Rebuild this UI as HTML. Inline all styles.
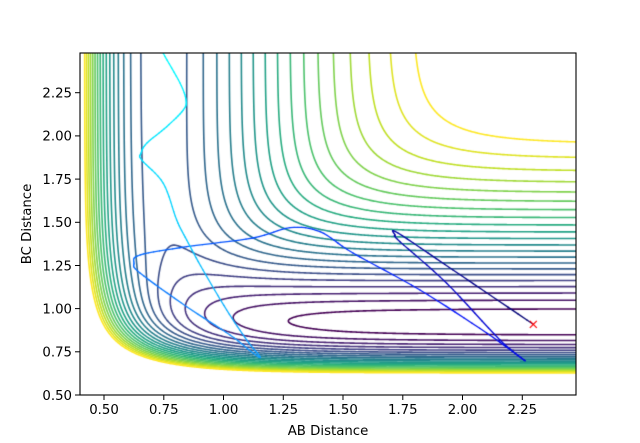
<!DOCTYPE html>
<html><head><meta charset="utf-8"><style>
html,body{margin:0;padding:0;background:#fff;width:640px;height:443px;overflow:hidden}
#c{position:absolute;left:0;top:0}
svg{position:absolute;left:0;top:0}
text{font-family:"DejaVu Sans","Liberation Sans",sans-serif;font-size:13.3px;fill:#000}
</style></head><body>
<canvas id="c" width="640" height="443"></canvas>
<svg width="640" height="443" xmlns="http://www.w3.org/2000/svg">
<rect x="80" y="53" width="496" height="342" fill="none" stroke="#000" stroke-width="1.1"/>
<g stroke="#000" stroke-width="1">
<line x1="104" y1="395" x2="104" y2="400"/><line x1="163.8" y1="395" x2="163.8" y2="400"/><line x1="223.5" y1="395" x2="223.5" y2="400"/><line x1="283.3" y1="395" x2="283.3" y2="400"/><line x1="343" y1="395" x2="343" y2="400"/><line x1="402.8" y1="395" x2="402.8" y2="400"/><line x1="462.5" y1="395" x2="462.5" y2="400"/><line x1="522.3" y1="395" x2="522.3" y2="400"/>
<line x1="75" y1="395" x2="80" y2="395"/><line x1="75" y1="351.8" x2="80" y2="351.8"/><line x1="75" y1="308.6" x2="80" y2="308.6"/><line x1="75" y1="265.5" x2="80" y2="265.5"/><line x1="75" y1="222.3" x2="80" y2="222.3"/><line x1="75" y1="179.1" x2="80" y2="179.1"/><line x1="75" y1="135.9" x2="80" y2="135.9"/><line x1="75" y1="92.7" x2="80" y2="92.7"/>
</g>
<g text-anchor="middle">
<text x="104" y="414">0.50</text><text x="163.8" y="414">0.75</text><text x="223.5" y="414">1.00</text><text x="283.3" y="414">1.25</text><text x="343" y="414">1.50</text><text x="402.8" y="414">1.75</text><text x="462.5" y="414">2.00</text><text x="522.3" y="414">2.25</text>
<text x="328" y="435">AB Distance</text>
<text transform="translate(31,224) rotate(-90)">BC Distance</text>
</g>
<g text-anchor="end">
<text x="72" y="400">0.50</text><text x="72" y="356.6">0.75</text><text x="72" y="313.4">1.00</text><text x="72" y="270.3">1.25</text><text x="72" y="227.1">1.50</text><text x="72" y="183.9">1.75</text><text x="72" y="140.7">2.00</text><text x="72" y="97.5">2.25</text>
</g>
</svg>
<script>
(function(){
var cv=document.getElementById('c'),g=cv.getContext('2d');
var X0=0.4,X1=2.475,Y0=0.5,Y1=2.48,L=80,R=576,T=53,B=395;
function px(x){return L+(x-X0)/(X1-X0)*(R-L);}
function py(y){return B-(y-Y0)/(Y1-Y0)*(B-T);}
var k=0.18;
function pair(r,D,a,r0){var e=Math.exp(-a*(r-r0));var E1=D*(e*e-2*e),E3=D/2*(e*e+2*e);
 return [(E1*(1+k)+E3*(1-k))/2,(E1*(1+k)-E3*(1-k))/2];}
function V(x,y){var A=pair(x,4.746,1.942,0.7414),Bc=pair(y,6.12,2.219,0.917),C=pair(x+y,6.12,2.219,0.917);
 var q=A[0]+Bc[0]+C[0];var j=Math.sqrt(0.5*((A[1]-Bc[1])*(A[1]-Bc[1])+(Bc[1]-C[1])*(Bc[1]-C[1])+(C[1]-A[1])*(C[1]-A[1])));
 return (q-j)/(1+k);}
var vir=[[68,1,84],[72,36,117],[65,68,135],[53,95,141],[42,120,142],[33,145,140],[34,168,132],[68,191,112],[122,209,81],[189,223,38],[253,231,37]];
function cmap(t){t=Math.max(0,Math.min(1,t))*10;var i=Math.min(9,Math.floor(t)),f=t-i,a=vir[i],b=vir[i+1];
 return 'rgb('+Math.round(a[0]+(b[0]-a[0])*f)+','+Math.round(a[1]+(b[1]-a[1])*f)+','+Math.round(a[2]+(b[2]-a[2])*f)+')';}
var NX=420,NY=300,gx=[],gy=[],Z=[];
for(var i=0;i<=NX;i++)gx.push(X0+(X1-X0)*i/NX);
for(var j=0;j<=NY;j++)gy.push(Y0+(Y1-Y0)*j/NY);
for(var j=0;j<=NY;j++){var row=[];for(var i=0;i<=NX;i++)row.push(V(gx[i],gy[j]));Z.push(row);}
g.save();g.beginPath();g.rect(L,T,R-L,B-T);g.clip();
g.lineWidth=1.6;g.lineCap='round';g.lineJoin='round';
var NL=22,lv0=-5.95,dl=0.2283;
for(var n=0;n<NL;n++){var lv=lv0+n*dl;
 var P={},adj={};
 function ept(key,v1,v2,x1,y1,x2,y2){if(!P[key]){var t=(lv-v1)/(v2-v1);P[key]=[px(x1+(x2-x1)*t),py(y1+(y2-y1)*t)];}return key;}
 function link(a,b){(adj[a]=adj[a]||[]).push(b);(adj[b]=adj[b]||[]).push(a);}
 for(var j=0;j<NY;j++)for(var i=0;i<NX;i++){
  var a=Z[j][i],b=Z[j][i+1],c=Z[j+1][i+1],d=Z[j+1][i];
  var xa=gx[i],xb=gx[i+1],ya=gy[j],yb=gy[j+1],ks=[];
  if((a<lv)!=(b<lv))ks.push(ept('h'+i+'_'+j,a,b,xa,ya,xb,ya));
  if((b<lv)!=(c<lv))ks.push(ept('v'+(i+1)+'_'+j,b,c,xb,ya,xb,yb));
  if((c<lv)!=(d<lv))ks.push(ept('h'+i+'_'+(j+1),d,c,xa,yb,xb,yb));
  if((d<lv)!=(a<lv))ks.push(ept('v'+i+'_'+j,a,d,xa,ya,xa,yb));
  if(ks.length==2)link(ks[0],ks[1]);else if(ks.length==4){link(ks[0],ks[1]);link(ks[2],ks[3]);}
 }
 var used={};g.strokeStyle=cmap(n/(NL-1));g.beginPath();
 var keys=Object.keys(adj);
 keys.sort(function(a,b){return adj[a].length-adj[b].length;});
 for(var s=0;s<keys.length;s++){var st=keys[s];if(used[st])continue;
  used[st]=1;g.moveTo(P[st][0],P[st][1]);var cur=st,prev=null;
  while(true){var nb=adj[cur],nx=null;for(var m=0;m<nb.length;m++){if(!used[nb[m]]){nx=nb[m];break;}}
   if(nx===null){for(var m=0;m<nb.length;m++){if(nb[m]!==prev&&nb[m]===st&&prev!==null){g.lineTo(P[st][0],P[st][1]);}}break;}
   used[nx]=1;g.lineTo(P[nx][0],P[nx][1]);prev=cur;cur=nx;}
 }
 g.stroke();}
// trajectory
var Q=[[533.3,324.3],[453,270],[398,233],[395,235],[400,241.7],[446.7,283.3],[500,340],[525,360.7],[486.7,333],[420,290],[353,253],[320,231.7],[290,227.7],[253,238],[186.7,246.7],[140,255],[134,263.3],[140,273],[186.7,306.7],[230,335],[253,353],[260,356.7],[246.7,340],[226.7,310],[203,270],[186.7,240],[176.7,220],[163.3,183.3],[141.7,160],[141,153.3],[146.7,143.3],[166.7,126.7],[183.3,110],[186,100],[180,83],[163.3,53.3],[158,40]];
// catmull-rom densify
var D=[];for(var q=0;q<Q.length-1;q++){var p0=Q[Math.max(0,q-1)],p1=Q[q],p2=Q[q+1],p3=Q[Math.min(Q.length-1,q+2)];
 for(var s=0;s<8;s++){var t=s/8,t2=t*t,t3=t2*t;
  D.push([0.5*(2*p1[0]+(-p0[0]+p2[0])*t+(2*p0[0]-5*p1[0]+4*p2[0]-p3[0])*t2+(-p0[0]+3*p1[0]-3*p2[0]+p3[0])*t3),
          0.5*(2*p1[1]+(-p0[1]+p2[1])*t+(2*p0[1]-5*p1[1]+4*p2[1]-p3[1])*t2+(-p0[1]+3*p1[1]-3*p2[1]+p3[1])*t3)]);}}
D.push(Q[Q.length-1]);
var tc=[[0,[0,0,110]],[0.2,[0,0,200]],[0.35,[0,20,255]],[0.55,[0,90,255]],[0.7,[20,150,255]],[0.85,[0,210,255]],[1,[0,255,255]]];
function tcol(t){for(var q=0;q<tc.length-1;q++){if(t<=tc[q+1][0]){var f=(t-tc[q][0])/(tc[q+1][0]-tc[q][0]),a=tc[q][1],b=tc[q+1][1];
 return 'rgb('+Math.round(a[0]+(b[0]-a[0])*f)+','+Math.round(a[1]+(b[1]-a[1])*f)+','+Math.round(a[2]+(b[2]-a[2])*f)+')';}}return 'rgb(0,255,255)';}
var len=[0];for(var q=1;q<D.length;q++)len.push(len[q-1]+Math.hypot(D[q][0]-D[q-1][0],D[q][1]-D[q-1][1]));
var tot=len[len.length-1];g.lineWidth=1.3;g.lineCap='round';
for(var q=1;q<D.length;q++){g.strokeStyle=tcol(len[q]/tot);g.beginPath();g.moveTo(D[q-1][0],D[q-1][1]);g.lineTo(D[q][0],D[q][1]);g.stroke();}
g.restore();
g.strokeStyle='#ff0000';g.lineWidth=1.2;var cx=533.3,cy=324.3;
g.beginPath();g.moveTo(cx-3.5,cy-3.5);g.lineTo(cx+3.5,cy+3.5);g.moveTo(cx+3.5,cy-3.5);g.lineTo(cx-3.5,cy+3.5);g.stroke();
})();
</script>
</body></html>
